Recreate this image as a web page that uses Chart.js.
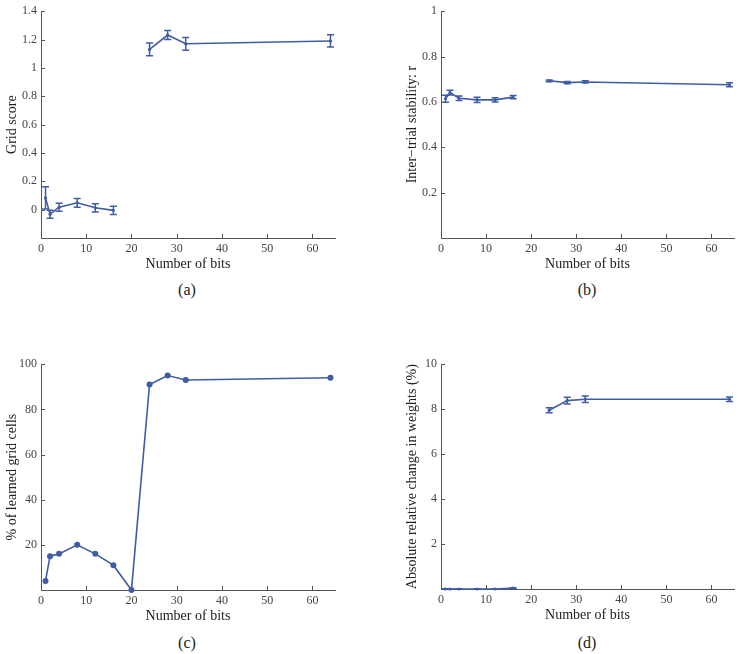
<!DOCTYPE html>
<html>
<head>
<meta charset="utf-8">
<script src="https://cdn.jsdelivr.net/npm/chart.js"></script>
<style>
  body { margin: 0; background: #fff; }
  #wrap { position: relative; width: 738px; height: 654px; }
  canvas { position: absolute; }
  .tag { position: absolute; font: 16px "Liberation Serif", serif; color: #222; transform: translate(-50%, -50%); }
</style>
</head>
<body>
<div id="wrap">
  <canvas id="chartA" width="340" height="278" style="left:0;top:0"></canvas>
  <canvas id="chartB" width="338" height="278" style="left:400px;top:0"></canvas>
  <canvas id="chartC" width="340" height="277" style="left:0;top:353px"></canvas>
  <canvas id="chartD" width="338" height="276" style="left:400px;top:353px"></canvas>
  <div class="tag" style="left:187px;top:290px">(a)</div>
  <div class="tag" style="left:587px;top:290px">(b)</div>
  <div class="tag" style="left:187px;top:643px">(c)</div>
  <div class="tag" style="left:587px;top:643px">(d)</div>
</div>
<script>
// -- Data (x = number of bits).
const bits = [1, 2, 4, 8, 12, 16, 20, 24, 28, 32, 64];

const gridScore    = [0.083, -0.032, 0.017, 0.048, 0.013, -0.005, null, 1.13, 1.232, 1.17, 1.19];
const gridScoreErr = [0.078, 0.028, 0.029, 0.031, 0.029, 0.029, null, 0.045, 0.031, 0.045, 0.043];

const stability    = [0.614, 0.641, 0.616, 0.609, 0.609, 0.621, null, 0.693, 0.685, 0.688, 0.676];
const stabilityErr = [0.015, 0.010, 0.010, 0.012, 0.009, 0.007, null, 0.004, 0.005, 0.005, 0.009];

const learned = [4, 15, 16, 20, 16, 11, 0, 91, 95, 93, 94];

const weightChange = [0, 0, 0, 0, 0, 0.04, null, 7.95, 8.38, 8.44, 8.44];
const weightErr    = [0.01, 0.01, 0.01, 0.01, 0.01, 0.02, null, 0.11, 0.15, 0.14, 0.1];

const xTicks = [0, 10, 20, 30, 40, 50, 60];
const yTicksA = [0, 0.2, 0.4, 0.6, 0.8, 1, 1.2, 1.4];
const yTicksB = [0.2, 0.4, 0.6, 0.8, 1];
const yTicksC = [20, 40, 60, 80, 100];
const yTicksD = [2, 4, 6, 8, 10];

const BLUE = '#3f5ca5';
const AXIS = '#555';
const SERIF = '"Liberation Serif", "Times New Roman", serif';

// -- Vertical error bars with small caps.
const errorBars = {
  id: 'errorBars',
  afterDatasetsDraw(chart, args, opts) {
    const err = opts.err;
    if (!err) return;
    const {ctx, scales: {x, y}} = chart;
    const vals = chart.data.datasets[0].data;
    ctx.save();
    ctx.strokeStyle = BLUE;
    ctx.lineWidth = 1.5;
    vals.forEach((p, i) => {
      if (p.y === null || err[i] === null) return;
      const px = x.getPixelForValue(p.x);
      const lo = y.getPixelForValue(p.y - err[i]);
      const hi = y.getPixelForValue(p.y + err[i]);
      ctx.beginPath();
      ctx.moveTo(px, lo); ctx.lineTo(px, hi);
      ctx.moveTo(px - 3.5, lo); ctx.lineTo(px + 3.5, lo);
      ctx.moveTo(px - 3.5, hi); ctx.lineTo(px + 3.5, hi);
      ctx.stroke();
    });
    ctx.restore();
  }
};

// -- Small tick marks pointing into the plot.
const innerTicks = {
  id: 'innerTicks',
  afterDraw(chart) {
    const {ctx, chartArea: a, scales: {x, y}} = chart;
    ctx.save();
    ctx.strokeStyle = AXIS;
    ctx.lineWidth = 1;
    ctx.beginPath();
    x.ticks.forEach(t => {
      const px = Math.round(x.getPixelForValue(t.value)) + 0.5;
      ctx.moveTo(px, a.bottom); ctx.lineTo(px, a.bottom - 4);
    });
    y.ticks.forEach(t => {
      const py = Math.round(y.getPixelForValue(t.value)) + 0.5;
      ctx.moveTo(a.left, py); ctx.lineTo(a.left + 4, py);
    });
    ctx.stroke();
    ctx.restore();
  }
};

const fmt = v => String(+Number(v).toFixed(2));

const make_chart = (id, values, err, yMin, yMax, yTicks, yTitle, pointRadius, pad) => {
  return new Chart(document.getElementById(id), {
    type: 'line',
    data: {
      datasets: [{
        data: bits.map((b, i) => ({x: b, y: values[i]})),
        borderColor: BLUE,
        backgroundColor: BLUE,
        borderWidth: 1.6,
        pointRadius: pointRadius,
        pointBorderWidth: 0,
        spanGaps: false,
        clip: false,
      }]
    },
    options: {
      responsive: false,
      animation: false,
      events: [],
      layout: {padding: pad},
      plugins: {
        legend: {display: false},
        tooltip: {enabled: false},
        errorBars: {err: err},
      },
      scales: {
        x: {
          type: 'linear',
          min: 0, max: 65,
          afterBuildTicks: s => { s.ticks = xTicks.map(v => ({value: v})); },
          afterFit: s => { s.height = 40; },
          grid: {drawOnChartArea: false, drawTicks: false},
          border: {color: AXIS, width: 1},
          ticks: {font: {family: SERIF, size: 12}, color: '#444', padding: 4, maxRotation: 0, callback: fmt},
          title: {display: true, text: 'Number of bits', font: {family: SERIF, size: 14}, color: '#222', padding: {top: 0, bottom: 5}},
        },
        y: {
          min: yMin, max: yMax,
          afterBuildTicks: s => { s.ticks = yTicks.map(v => ({value: v})); },
          afterFit: s => { s.width = 41; },
          grid: {drawOnChartArea: false, drawTicks: false},
          border: {color: AXIS, width: 1},
          ticks: {font: {family: SERIF, size: 12}, color: '#444', padding: 4, callback: fmt},
          title: {display: true, text: yTitle, font: {family: SERIF, size: 14}, color: '#222', padding: {top: 4, bottom: 0}},
        }
      }
    },
    plugins: [errorBars, innerTicks]
  });
};

make_chart('chartA', gridScore, gridScoreErr, -0.2, 1.4, yTicksA, 'Grid score', 1.6, {top: 6, right: 5});
make_chart('chartB', stability, stabilityErr, 0, 1, yTicksB, 'Inter\u2212trial stability: r', 1.6, {top: 7, right: 4});
make_chart('chartC', learned, null, 0, 100, yTicksC, '% of learned grid cells', 3, {top: 6, right: 5});
make_chart('chartD', weightChange, weightErr, 0, 10, yTicksD, 'Absolute relative change in weights (%)', 1.6, {top: 6, right: 4});
</script>
</body>
</html>
